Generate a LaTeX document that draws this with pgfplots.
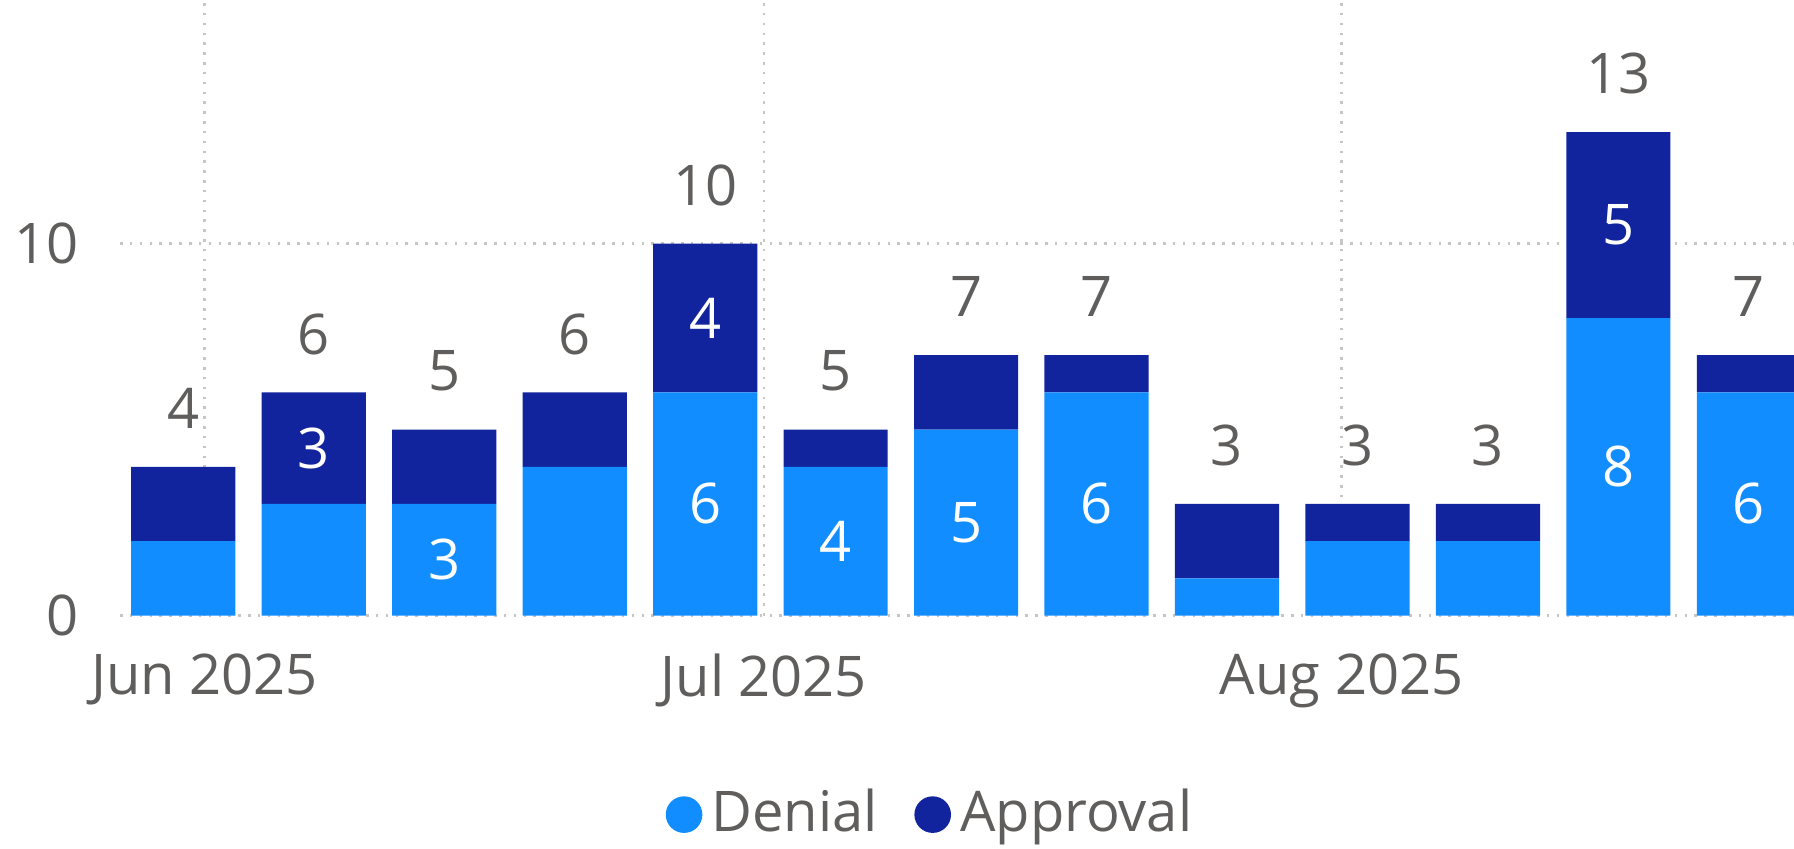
\documentclass[border=0pt]{standalone}
\usepackage{pgfplots}
\pgfplotsset{compat=1.18}
\usepackage{pgfplotstable}
\usepackage{fontspec}
\setmainfont{Open Sans}
\definecolor{den}{HTML}{118DFF}
\definecolor{app}{HTML}{12239E}
\definecolor{txt}{HTML}{605E5C}
\definecolor{grd}{HTML}{C8C6C4}
\newcommand{\chartfont}{\fontsize{12.25}{14}\selectfont}

% x = days since 1 Jun 2025 (bar centre), den = Denial, app = Approval,
% dl / al = label shown inside the Denial / Approval segment
\pgfplotstableread{
x     den app dl al
-1.15 2   2   {} {}
5.85  3   3   {} 3
12.85 3   2   3  {}
19.85 4   2   {} {}
26.85 6   4   6  4
33.85 4   1   4  {}
40.85 5   2   5  {}
47.85 6   1   6  {}
54.85 1   2   {} {}
61.85 2   1   {} {}
68.85 2   1   {} {}
75.85 8   5   8  5
82.85 6   1   6  {}
}\data

\pgfplotsset{base/.style={
  scale only axis, width=365.75pt, height=134.5pt,
  xmin=-4.54, xmax=85.27, ymin=0, ymax=16.55,
  at={(0pt,0pt)}, anchor=south west,
  /pgf/number format/assume math mode=true,
}}

\begin{document}
\chartfont
\begin{tikzpicture}
\useasboundingbox (-26.25pt,-51pt) rectangle (365.75pt,134.5pt);
\begin{axis}[base, ybar stacked, bar width=5.59,
  axis line style={draw=none}, major tick length=0pt,
  xtick={0,30,61}, xticklabels={Jun 2025,Jul 2025,Aug 2025},
  ytick={0,10},
  xmajorgrids, ymajorgrids,
  grid style={grd, line width=0.55pt, dash pattern=on 0.55pt off 1.6pt},
  tick label style={font=\chartfont, text=txt},
  xticklabel style={yshift=-4pt},
  yticklabel style={xshift=-4.8pt},
  legend style={at={(0.486,-0.3234)}, anchor=center, draw=none, fill=none,
    font=\chartfont, text=txt, legend columns=2,
    /tikz/every even column/.append style={column sep=6pt}},
]
\addplot[fill=den, draw=none,
  legend image code/.code={\fill[den] (4pt,0pt) circle (4pt);}]
  table[x=x, y=den]{\data};
\addplot[fill=app, draw=none,
  legend image code/.code={\fill[app] (4pt,0pt) circle (4pt);}]
  table[x=x, y=app]{\data};
\legend{Denial,Approval}
\end{axis}
\begin{axis}[base, hide axis, clip=false,
  nodes near coords style={font=\chartfont, anchor=center}]
\addplot[only marks, mark=*, mark size=0pt, mark options={draw=none, fill=none},
  nodes near coords, point meta=explicit symbolic,
  nodes near coords style={white}]
  table[x=x, y expr=\thisrow{den}/2, meta=dl]{\data};
\addplot[only marks, mark=*, mark size=0pt, mark options={draw=none, fill=none},
  nodes near coords, point meta=explicit symbolic,
  nodes near coords style={white}]
  table[x=x, y expr=\thisrow{den}+\thisrow{app}/2, meta=al]{\data};
\addplot[only marks, mark=*, mark size=0pt, mark options={draw=none, fill=none},
  nodes near coords, point meta=y,
  nodes near coords style={txt, yshift=12.75pt}]
  table[x=x, y expr=\thisrow{den}+\thisrow{app}]{\data};
\end{axis}
\end{tikzpicture}
\end{document}
